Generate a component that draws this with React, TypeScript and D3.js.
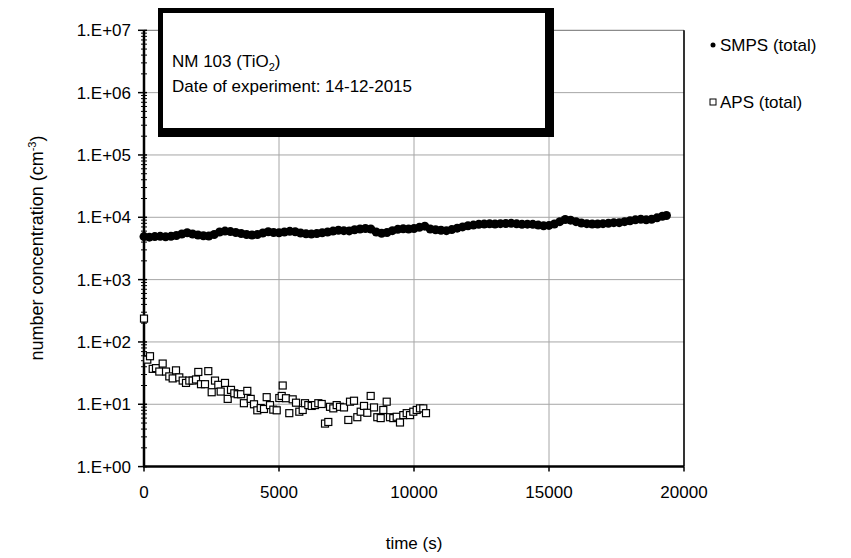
import React from "react";
import * as d3 from "d3";

const smpsTime: number[] = [
  0, 200, 400, 600, 800, 1000, 1200, 1400, 1600, 1800, 2000, 2200, 2400, 2600, 2800, 3000, 3200, 3400, 3600, 3800,
  4000, 4200, 4400, 4600, 4800, 5000, 5200, 5400, 5600, 5800, 6000, 6200, 6400, 6600, 6800, 7000, 7200, 7400, 7600, 7800,
  8000, 8200, 8400, 8600, 8800, 9000, 9200, 9400, 9600, 9800, 10000, 10200, 10400, 10600, 10800, 11000, 11200, 11400, 11600, 11800,
  12000, 12200, 12400, 12600, 12800, 13000, 13200, 13400, 13600, 13800, 14000, 14200, 14400, 14600, 14800, 15000, 15200, 15400, 15600, 15800,
  16000, 16200, 16400, 16600, 16800, 17000, 17200, 17400, 17600, 17800, 18000, 18200, 18400, 18600, 18800, 19000, 19200, 19350,
];
const smpsValue: number[] = [
  4900, 4800, 4900, 4950, 4850, 4950, 5100, 5400, 5650, 5400, 5200, 5050, 5000, 5300, 5800, 6000, 5900, 5700, 5500, 5300,
  5200, 5300, 5600, 5850, 5700, 5650, 5800, 5950, 5850, 5600, 5450, 5400, 5500, 5650, 5800, 6000, 6200, 6100, 6050, 6300,
  6500, 6600, 6500, 5800, 5550, 5700, 6100, 6400, 6550, 6500, 6600, 6900, 7200, 6500, 6300, 6200, 6100, 6350, 6700, 7000,
  7300, 7500, 7700, 7800, 7850, 7800, 7900, 7950, 8000, 7850, 7700, 7750, 7700, 7500, 7300, 7400, 7800, 8500, 9200, 9000,
  8500, 8100, 7900, 7800, 7800, 7900, 8000, 8200, 8200, 8500, 8800, 9100, 9300, 9100, 9300, 9800, 10400, 10700,
];

const apsTime: number[] = [
  0, 122, 222, 322, 444, 567, 692, 815, 937, 1062, 1185, 1307, 1433, 1556, 1678, 1800, 1926, 2011, 2111, 2259,
  2381, 2507, 2630, 2752, 2840, 3000, 3100, 3222, 3344, 3470, 3593, 3700, 3826, 3952, 4074, 4196, 4322, 4444, 4544, 4667,
  4789, 4915, 5011, 5100, 5137, 5259, 5381, 5507, 5630, 5752, 5878, 5963, 6085, 6211, 6333, 6456, 6582, 6704, 6826, 6889,
  7011, 7137, 7259, 7407, 7567, 7630, 7778, 7900, 8026, 8148, 8270, 8396, 8519, 8641, 8767, 8863, 8989, 9111, 9233, 9359,
  9481, 9604, 9730, 9852, 9974, 10100, 10222, 10344, 10444,
];
const apsValue: number[] = [
  237, 52, 59, 37, 38, 33.5, 45, 33.5, 28, 26, 35, 27, 24, 22, 24, 24, 25, 33, 21, 21,
  34, 15.6, 24, 20.5, 16, 22, 12.2, 17, 15, 14.5, 14.5, 10.4, 16.4, 12.2, 10, 8, 8.7, 8.4, 13, 9.7,
  8.2, 8, 12.6, 13.6, 20, 12.5, 7.2, 12, 10.6, 7.6, 8.1, 10.4, 9.7, 9.4, 9.7, 10.4, 10.1, 4.9, 5.2, 9.1,
  8.6, 9.7, 9.1, 8.9, 5.6, 11, 11.4, 6.2, 7.6, 9.4, 7.3, 13.6, 8.9, 6.2, 6, 8.1, 11, 6.2, 6, 6.3,
  5.1, 6.7, 7.2, 6.7, 7.6, 8.1, 8.6, 8.6, 7.2,
];

const xTicks: number[] = [0, 5000, 10000, 15000, 20000];
const yTicks: number[] = [1, 10, 100, 1000, 10000, 100000, 1000000, 10000000];
const yTickLabels: string[] = ["1.E+00", "1.E+01", "1.E+02", "1.E+03", "1.E+04", "1.E+05", "1.E+06", "1.E+07"];

const FONT = "Liberation Sans, Arial, sans-serif";

export default function App() {
  const W = 851, H = 558;
  const x0 = 144, x1 = 684, yTop = 30.3, yBot = 466.6;
  const x = d3.scaleLinear().domain([0, 20000]).range([x0, x1]);
  const y = d3.scaleLog().domain([1, 1e7]).range([yBot, yTop]);

  const minor: number[] = [];
  for (let k = 0; k < 7; k++) for (let m = 2; m <= 9; m++) minor.push(m * Math.pow(10, k));

  const fs = 17;
  return (
    <svg width={W} height={H} style={{ position: "absolute", left: 0, top: 0, background: "#fff" }} fontFamily={FONT}>
      {yTicks.slice(1, -1).map((v) => (
        <line key={"gy" + v} x1={x0} x2={x1} y1={y(v)} y2={y(v)} stroke="#a6a6a6" strokeWidth={1} />
      ))}
      {xTicks.slice(1, -1).map((v) => (
        <line key={"gx" + v} x1={x(v)} x2={x(v)} y1={yTop} y2={yBot} stroke="#a6a6a6" strokeWidth={1} />
      ))}
      <line x1={x0} x2={x1} y1={yTop} y2={yTop} stroke="#6e6e6e" strokeWidth={1} />
      <line x1={x1} x2={x1} y1={yTop} y2={yBot} stroke="#000" strokeWidth={1.6} />

      {minor.map((v) => (
        <line key={"mn" + v} x1={x0 - 3} x2={x0 + 3} y1={y(v)} y2={y(v)} stroke="#000" strokeWidth={1} />
      ))}
      {yTicks.map((v) => (
        <line key={"mj" + v} x1={x0 - 6} x2={x0 + 3} y1={y(v)} y2={y(v)} stroke="#000" strokeWidth={1.5} />
      ))}
      <line x1={x0} x2={x0} y1={yTop} y2={yBot} stroke="#000" strokeWidth={2.5} />
      {yTicks.map((v, i) => (
        <text key={"yl" + v} x={131} y={y(v)} dy="0.35em" textAnchor="end" fontSize={fs} fill="#000">
          {yTickLabels[i]}
        </text>
      ))}

      {xTicks.map((v) => (
        <line key={"xt" + v} x1={x(v)} x2={x(v)} y1={yBot} y2={yBot + 5} stroke="#000" strokeWidth={1.5} />
      ))}
      <line x1={x0 - 1} x2={x1} y1={yBot} y2={yBot} stroke="#000" strokeWidth={2.5} />
      {xTicks.map((v) => (
        <text key={"xl" + v} x={x(v)} y={492} dy="0.35em" textAnchor="middle" fontSize={fs} fill="#000">
          {String(v)}
        </text>
      ))}
      <text x={414} y={543} dy="0.35em" textAnchor="middle" fontSize={fs} fill="#000">time (s)</text>
      <text transform={`translate(37,248) rotate(-90)`} textAnchor="middle" dy="0.35em" fontSize={18} fill="#000">
        number concentration (cm<tspan dy="-7" fontSize={11}>-3</tspan><tspan dy="7">)</tspan>
      </text>

      {smpsTime.map((t, i) => (
        <circle key={"s" + i} cx={x(t)} cy={y(smpsValue[i])} r={4.5} fill="#000" />
      ))}
      {apsTime.map((t, i) => (
        <rect key={"a" + i} x={x(t) - 3.5} y={y(apsValue[i]) - 3.5} width={7} height={7} fill="#fff" stroke="#000" strokeWidth={1.2} />
      ))}

      <rect x={158} y={8} width={396} height={129} fill="#000" />
      <rect x={163} y={13} width={382} height={115} fill="#fff" />
      <text x={172} y={67} fontSize={fs} fill="#000">
        NM 103 (TiO<tspan dy="4" fontSize={11}>2</tspan><tspan dy="-4">)</tspan>
      </text>
      <text x={172} y={92} fontSize={fs} fill="#000">Date of experiment: 14-12-2015</text>

      <circle cx={713} cy={45} r={2.5} fill="#000" />
      <text x={720} y={45} dy="0.35em" fontSize={fs} fill="#000">SMPS (total)</text>
      <rect x={710} y={99} width={6} height={6} fill="#fff" stroke="#000" strokeWidth={1} />
      <text x={720} y={102} dy="0.35em" fontSize={fs} fill="#000">APS (total)</text>
    </svg>
  );
}
